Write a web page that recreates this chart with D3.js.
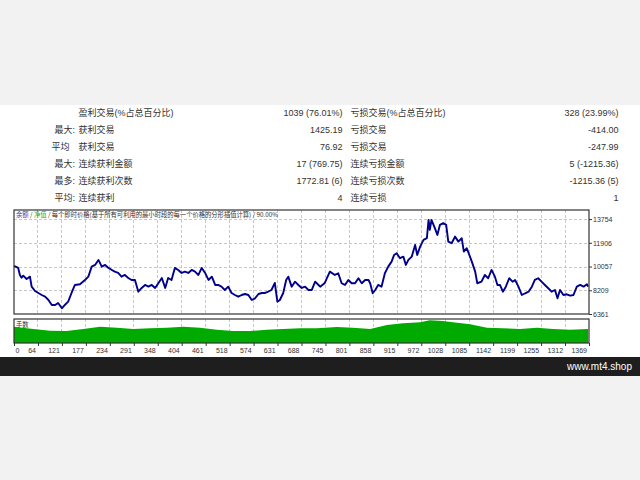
<!DOCTYPE html>
<html><head><meta charset="utf-8">
<script src="https://cdn.jsdelivr.net/npm/d3@7"></script>
<style>
html,body{margin:0;padding:0;background:#f2f2f2;}
svg{display:block;}
</style></head>
<body>
<svg id="c" width="640" height="480"></svg>
<script>
// ---- data ----
const tableLabelsLeft  = ["盈利交易(%占总百分比)","获利交易","获利交易","连续获利金额","连续获利次数","连续获利"];
const tablePrefixes    = ["","最大:","平均","最大:","最多:","平均:"];
const tableValuesLeft  = ["1039 (76.01%)","1425.19","76.92","17 (769.75)","1772.81 (6)","4"];
const tableLabelsRight = ["亏损交易(%占总百分比)","亏损交易","亏损交易","连续亏损金额","连续亏损次数","连续亏损"];
const tableValuesRight = ["328 (23.99%)","-414.00","-247.99","5 (-1215.36)","-1215.36 (5)","1"];

const trades = [0,10,14,18,22,30,38,42,50,58,66,74,82,90,98,105,114,121,129,137,145,157,169,177,185,193,201,209,217,225,233,240,248,256,264,272,280,288,296,304,312,320,328,336,344,352,360,367,375,383,391,399,407,415,423,431,439,447,455,463,471,479,486,494,502,510,518,526,534,542,550,558,566,574,582,590,598,605,613,621,627,633,641,648,653,661,669,677,685,693,701,709,717,725,729,740,752,764,772,780,788,796,804,812,820,828,836,844,848,854,860,867,875,883,891,899,905,911,919,927,933,939,947,955,960,967,975,983,987,990,994,1002,1008,1014,1022,1029,1034,1042,1050,1058,1066,1071,1078,1084,1090,1098,1103,1113,1121,1129,1137,1145,1151,1157,1164,1171,1179,1187,1193,1201,1209,1217,1225,1233,1240,1248,1256,1264,1272,1280,1288,1294,1300,1308,1316,1324,1332,1340,1348,1356,1364,1367];
const equity = [10104,9948,9402,9191,9347,9090,9269,8490,8154,7998,7842,7710,7453,7063,7063,7219,6805,7063,7320,7998,8622,8677,9012,9269,10049,10182,10571,10049,10182,9948,9792,9659,9558,9269,9402,9168,9012,9012,8100,8388,8622,8490,8622,8388,8778,9168,8388,9168,9012,9948,9792,9558,9659,9558,9792,9659,9402,9948,9558,9012,9269,8622,8622,8490,8232,8490,7998,7842,7710,7842,7920,7842,7453,7585,7920,7998,7998,8100,8232,8778,7320,7453,7998,9012,9269,8490,8879,8622,8388,8490,8232,8232,8879,8622,8490,8778,9659,9402,9534,8755,8622,9012,8755,8755,9145,8755,9012,9012,8755,7975,8232,8622,8490,9534,10049,10439,10961,11094,10704,10829,10182,10571,10829,11741,10961,11608,12131,12263,13690,12910,13690,13043,12521,13300,13433,13300,11998,11873,12388,11998,12263,11219,11484,10961,10439,9659,8755,8879,9402,9145,9792,9269,8622,8622,8100,8490,9145,8879,9012,8490,7842,7975,8100,8490,9012,9145,8879,8622,8365,8100,8232,7585,8232,7842,7897,7788,7842,8490,8622,8490,8677,8490];

const lotTrades = [0,46,86,125,165,205,245,284,324,364,403,443,483,522,562,602,641,681,721,769,807,848,888,926,967,990,1021,1045,1086,1126,1164,1205,1245,1283,1324,1367];
const lots      = [1.63,1.40,1.23,1.20,1.40,1.63,1.53,1.40,1.47,1.53,1.63,1.53,1.33,1.20,1.20,1.33,1.40,1.47,1.47,1.60,1.53,1.40,1.80,1.97,2.07,2.27,2.20,2.07,1.87,1.53,1.47,1.40,1.53,1.40,1.33,1.40];

const xTickLabels = ["0","64","121","177","234","291","348","404","461","518","574","631","688","745","801","858","915","972","1028","1085","1142","1199","1255","1312","1369"];
const yTickValues = [6361,8209,10057,11906,13754];

// ---- drawing ----
const svg = d3.select("#c");
const L = 14, R = 589, mTop = 210, mBot = 314, sTop = 319, sBot = 343;

svg.append("rect").attr("x",0).attr("y",105).attr("width",640).attr("height",252).attr("fill","#ffffff");
svg.append("rect").attr("x",0).attr("y",357).attr("width",640).attr("height",19).attr("fill","#1e1e1e");
svg.append("text").attr("x",632).attr("y",370).attr("text-anchor","end")
  .attr("font-family","Liberation Sans, Arial, sans-serif").attr("font-size",10).attr("fill","#ffffff").text("www.mt4.shop");

// table
const rowY = d3.scaleLinear().domain([0,5]).range([115.5,200.5]);
const tf = "Liberation Sans, 'Noto Sans CJK SC', sans-serif";
const tg = svg.append("g").attr("font-family",tf).attr("font-size",9).attr("fill","#333");
tablePrefixes.forEach((p,i)=>{
  if(p) tg.append("text").attr("x", p.endsWith(":")?75:69.5).attr("y",rowY(i)).attr("text-anchor","end").text(p);
});
tableLabelsLeft.forEach((t,i)=>tg.append("text").attr("x",78.5).attr("y",rowY(i)).text(t));
tableValuesLeft.forEach((t,i)=>tg.append("text").attr("x",342.5).attr("y",rowY(i)).attr("text-anchor","end").text(t));
tableLabelsRight.forEach((t,i)=>tg.append("text").attr("x",350.5).attr("y",rowY(i)).text(t));
tableValuesRight.forEach((t,i)=>tg.append("text").attr("x",618.5).attr("y",rowY(i)).attr("text-anchor","end").text(t));

// scales
const x = d3.scaleLinear().domain([0,1369]).range([L,R]);
const y = d3.scaleLinear().domain([6361,14460]).range([mBot,mTop]);
const yl = d3.scaleLinear().domain([0,2.4]).range([sBot,sTop]);
const xt = d3.scalePoint().domain(xTickLabels).range([L,R]);

// grids
const grid = svg.append("g").attr("stroke","#c8c8c8").attr("stroke-width",1).attr("stroke-dasharray","3,2").attr("shape-rendering","crispEdges");
xTickLabels.slice(1,-1).forEach(l=>{
  grid.append("line").attr("x1",xt(l)).attr("x2",xt(l)).attr("y1",mTop).attr("y2",mBot);
  grid.append("line").attr("x1",xt(l)).attr("x2",xt(l)).attr("y1",sTop).attr("y2",sBot);
});
yTickValues.slice(1).forEach(v=>{
  grid.append("line").attr("x1",L).attr("x2",R).attr("y1",Math.round(y(v))+0.5).attr("y2",Math.round(y(v))+0.5);
});

// lot area
const area = d3.area().x((d,i)=>x(lotTrades[i])).y0(sBot).y1(d=>yl(d));
svg.append("path").datum(lots).attr("d",area).attr("fill","#00aa00");

// equity line
const line = d3.line().x((d,i)=>x(trades[i])).y(d=>y(d));
svg.append("path").datum(equity).attr("d",line).attr("fill","none").attr("stroke","#00008c").attr("stroke-width",1.9).attr("stroke-linejoin","round");

// frames
svg.append("rect").attr("x",L).attr("y",mTop).attr("width",R-L).attr("height",mBot-mTop).attr("fill","none").attr("stroke","#333").attr("stroke-width",1.2);
svg.append("rect").attr("x",L).attr("y",sTop).attr("width",R-L).attr("height",sBot-sTop).attr("fill","none").attr("stroke","#333").attr("stroke-width",1.2);

// right axis
const ya = svg.append("g").attr("transform",`translate(${R},0)`)
  .call(d3.axisRight(y).tickValues(yTickValues).tickSize(3).tickFormat(d3.format("d")));
ya.select(".domain").remove();
ya.selectAll("text").attr("font-family","Liberation Sans, Arial, sans-serif").attr("font-size",7).attr("fill","#333").attr("x",4);
ya.selectAll("line").attr("stroke","#333");

// bottom axis
const xa = svg.append("g").attr("transform",`translate(0,${sBot})`).call(d3.axisBottom(xt).tickSize(3));
xa.select(".domain").remove();
xa.selectAll("line").attr("stroke","#333");
xa.selectAll("text").attr("font-family","Liberation Sans, Arial, sans-serif").attr("font-size",7).attr("fill","#333")
  .attr("y",5).attr("dy","0.71em")
  .attr("text-anchor",(d,i)=>i===0?"start":"end").attr("x",(d,i)=>i===0?1:-2.5);

// titles
const tt = svg.append("text").attr("x",16).attr("y",216.5).attr("font-family","'Noto Sans CJK SC', sans-serif").attr("font-size",6.3).attr("fill","#333");
tt.append("tspan").attr("fill","#3333aa").text("余额");
tt.append("tspan").text(" / ");
tt.append("tspan").attr("fill","#22aa22").text("净值");
tt.append("tspan").text(" / 每个即时价格(基于所有可利用的最小时段的每一个价格的分形插值计算) / 90.00%");
svg.append("text").attr("x",16).attr("y",327).attr("font-family","'Noto Sans CJK SC', sans-serif").attr("font-size",6.3).attr("fill","#333").text("手数");
</script>
</body></html>
